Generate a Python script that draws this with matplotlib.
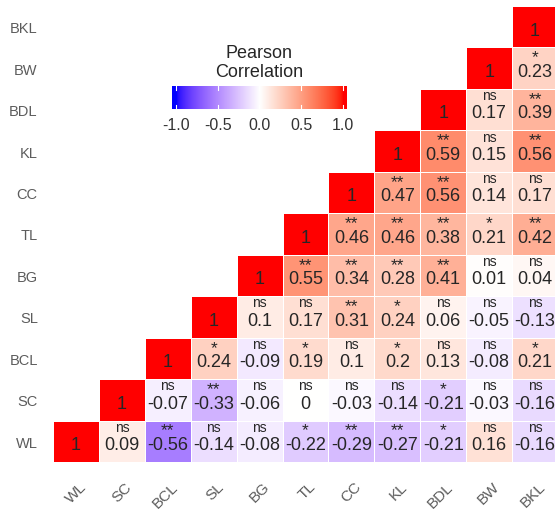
import numpy as np
import matplotlib
matplotlib.use("Agg")
import matplotlib.pyplot as plt
from matplotlib.colors import ListedColormap, Normalize
from matplotlib.transforms import ScaledTranslation

variables = ["WL", "SC", "BCL", "SL", "BG", "TL", "CC", "KL", "BDL", "BW", "BKL"]

# row i holds correlations of variables[i] with variables[i:], in order
corr_WL  = [1, 0.09, -0.56, -0.14, -0.08, -0.22, -0.29, -0.27, -0.21, 0.16, -0.16]
corr_SC  = [1, -0.07, -0.33, -0.06, 0, -0.03, -0.14, -0.21, -0.03, -0.16]
corr_BCL = [1, 0.24, -0.09, 0.19, 0.1, 0.2, 0.13, -0.08, 0.21]
corr_SL  = [1, 0.1, 0.17, 0.31, 0.24, 0.06, -0.05, -0.13]
corr_BG  = [1, 0.55, 0.34, 0.28, 0.41, 0.01, 0.04]
corr_TL  = [1, 0.46, 0.46, 0.38, 0.21, 0.42]
corr_CC  = [1, 0.47, 0.56, 0.14, 0.17]
corr_KL  = [1, 0.59, 0.15, 0.56]
corr_BDL = [1, 0.17, 0.39]
corr_BW  = [1, 0.23]
corr_BKL = [1]

sig_WL  = ["", "ns", "**", "ns", "ns", "*", "**", "**", "*", "ns", "ns"]
sig_SC  = ["", "ns", "**", "ns", "ns", "ns", "ns", "*", "ns", "ns"]
sig_BCL = ["", "*", "ns", "*", "ns", "*", "ns", "ns", "*"]
sig_SL  = ["", "ns", "ns", "**", "*", "ns", "ns", "ns"]
sig_BG  = ["", "**", "**", "**", "**", "ns", "ns"]
sig_TL  = ["", "**", "**", "**", "*", "**"]
sig_CC  = ["", "**", "**", "ns", "ns"]
sig_KL  = ["", "**", "ns", "**"]
sig_BDL = ["", "ns", "**"]
sig_BW  = ["", "*"]
sig_BKL = [""]

corr_rows = [corr_WL, corr_SC, corr_BCL, corr_SL, corr_BG, corr_TL, corr_CC,
             corr_KL, corr_BDL, corr_BW, corr_BKL]
sig_rows = [sig_WL, sig_SC, sig_BCL, sig_SL, sig_BG, sig_TL, sig_CC,
            sig_KL, sig_BDL, sig_BW, sig_BKL]

legend_title = "Pearson\nCorrelation"
legend_ticks = [-1.0, -0.5, 0.0, 0.5, 1.0]

# ---------- Lab-interpolated blue-white-red palette ----------
def srgb_to_lab(rgb):
    c = np.asarray(rgb, float)
    lin = np.where(c <= 0.04045, c / 12.92, ((c + 0.055) / 1.055) ** 2.4)
    M = np.array([[0.4124, 0.3576, 0.1805],
                  [0.2126, 0.7152, 0.0722],
                  [0.0193, 0.1192, 0.9505]])
    xyz = M @ lin / np.array([0.95047, 1.0, 1.08883])
    d = 6 / 29
    f = np.where(xyz > d ** 3, np.cbrt(xyz), xyz / (3 * d * d) + 4 / 29)
    return np.array([116 * f[1] - 16, 500 * (f[0] - f[1]), 200 * (f[1] - f[2])])

def lab_to_srgb(lab):
    L, a, b = lab
    fy = (L + 16) / 116
    fx = fy + a / 500
    fz = fy - b / 200
    d = 6 / 29
    def finv(t):
        return t ** 3 if t > d else 3 * d * d * (t - 4 / 29)
    xyz = np.array([finv(fx), finv(fy), finv(fz)]) * np.array([0.95047, 1.0, 1.08883])
    Minv = np.array([[3.2406, -1.5372, -0.4986],
                     [-0.9689, 1.8758, 0.0415],
                     [0.0557, -0.2040, 1.0570]])
    lin = Minv @ xyz
    lin = np.clip(lin, 0, 1)
    c = np.where(lin <= 0.0031308, 12.92 * lin, 1.055 * lin ** (1 / 2.4) - 0.055)
    return np.clip(c, 0, 1)

lab_blue = srgb_to_lab([0, 0, 1])
lab_white = srgb_to_lab([1, 1, 1])
lab_red = srgb_to_lab([1, 0, 0])
vals = np.linspace(-1, 1, 512)
cols = []
for v in vals:
    if v < 0:
        lab = lab_white + (-v) * (lab_blue - lab_white)
    else:
        lab = lab_white + v * (lab_red - lab_white)
    cols.append(lab_to_srgb(lab))
cmap = ListedColormap(cols)
norm = Normalize(-1, 1)

# ---------- figure ----------
W, H = 555, 510
plt.rcParams["font.family"] = ["Liberation Sans", "DejaVu Sans"]
fig = plt.figure(figsize=(W / 100, H / 100), dpi=100)

n = len(variables)
ax = fig.add_axes([53 / W, 47 / H, 505 / W, 456 / H])
Z = np.full((n, n), np.nan)
for i, row in enumerate(corr_rows):
    for k, v in enumerate(row):
        Z[i, i + k] = v
Zm = np.ma.masked_invalid(Z)
ax.pcolormesh(np.arange(n + 1) - 0.5, np.arange(n + 1) - 0.5, Zm,
              cmap=cmap, norm=norm, edgecolors="white", linewidth=0.6)
ax.set_xlim(-0.5, n - 0.5)
ax.set_ylim(-0.5, n - 0.5)

txtcol = "#262626"
for i, row in enumerate(corr_rows):
    for k, v in enumerate(row):
        j = i + k
        lab = "1" if v == 1 else ("0" if v == 0 else f"{v:g}")
        ax.text(j, i - 0.08, lab, ha="center", va="center", fontsize=13, color=txtcol)
        s = sig_rows[i][k]
        if s == "ns":
            ax.text(j, i + 0.35, s, ha="center", va="center", fontsize=10, color=txtcol)
        elif s:
            ax.text(j, i + 0.27, s, ha="center", va="center", fontsize=12.5, color=txtcol)

for sp in ax.spines.values():
    sp.set_visible(False)
ax.set_yticks(range(n))
ax.set_yticklabels(variables, fontsize=10.5, color="#5c5c5c")
ax.tick_params(axis="y", length=0, pad=11)
ax.set_xticks([])
off = ScaledTranslation(3 / 100, -17 / 100, fig.dpi_scale_trans)
for j, name in enumerate(variables):
    ax.text(j, 0, name, transform=ax.get_xaxis_transform() + off,
            rotation=45, ha="right", va="top", rotation_mode="anchor",
            fontsize=11, color="#5c5c5c")

# ---------- legend ----------
title_lines = legend_title.split("\n")
fig.text(259 / W, 1 - 58 / H, title_lines[0], ha="center", va="baseline",
         fontsize=13, color="#262626")
fig.text(259 / W, 1 - 77 / H, title_lines[1], ha="center", va="baseline",
         fontsize=13, color="#262626")
cax = fig.add_axes([172 / W, 1 - 110 / H, 174 / W, 23 / H])
lo, hi = -1.05, 1.04
grad = np.linspace(lo, hi, 300)[None, :]
cax.imshow(grad, cmap=cmap, norm=norm, aspect="auto", extent=[lo, hi, 0, 1])
cax.set_xlim(lo, hi)
cax.set_ylim(0, 1)
for t in legend_ticks:
    cax.plot([t, t], [0, 0.18], color="white", lw=0.8)
    cax.plot([t, t], [0.82, 1], color="white", lw=0.8)
cax.set_yticks([])
cax.set_xticks(legend_ticks)
cax.set_xticklabels([f"{t:.1f}" for t in legend_ticks], fontsize=11.5, color="#333333")
cax.tick_params(length=0, pad=6)
for sp in cax.spines.values():
    sp.set_visible(False)

fig.savefig("out.png", dpi=100)
